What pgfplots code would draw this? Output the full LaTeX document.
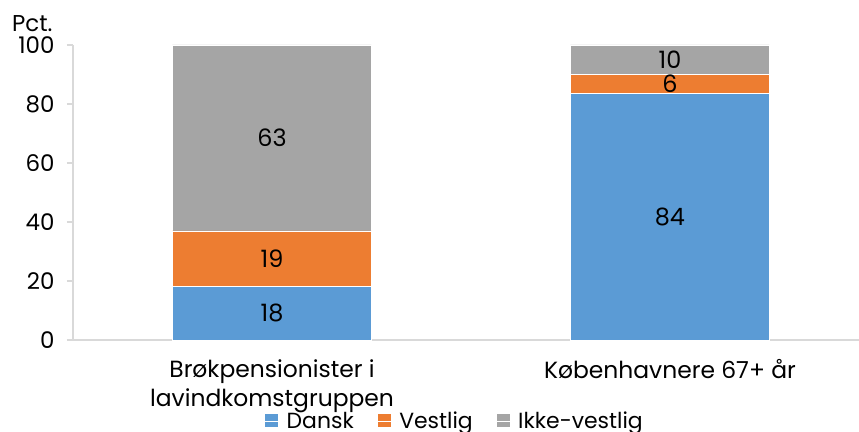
\documentclass[border=0pt]{standalone}
\usepackage{pgfplots}
\pgfplotsset{compat=1.18}
\usepackage{fontspec}
\setmainfont{Poppins}
\definecolor{cBlue}{HTML}{5B9BD5}
\definecolor{cOrange}{HTML}{ED7D31}
\definecolor{cGray}{HTML}{A5A5A5}
\definecolor{cAxis}{HTML}{D9D9D9}
\begin{document}
\begin{tikzpicture}
\path[use as bounding box, clip] (-73bp,-92bp) rectangle (786bp,340bp);
\begin{axis}[
  at={(0,0)}, anchor=south west,
  scale only axis, width=786bp, height=295bp,
  ybar stacked, bar width=199bp,
  xmin=-0.5, xmax=1.475, ymin=0, ymax=100,
  ytick={0,20,...,100},
  xtick={0,1},
  xticklabels={{Brøkpensionister i\\lavindkomstgruppen},{Københavnere 67+ år}},
  xticklabel style={align=center, font=\fontsize{23.5}{29}\selectfont, text=black, yshift=-10bp},
  yticklabel style={font=\fontsize{23}{26}\selectfont, text=black, xshift=-9bp},
  /pgf/number format/assume math mode=true,
  major x tick style={draw=none},
  axis x line*=bottom, axis y line*=left,
  axis line style={cAxis, line width=1.5bp, -},
  ytick style={cAxis, line width=1.5bp},
  tick align=outside, major tick length=6bp,
  legend style={at={(rel axis cs:0.486,-0.23)}, anchor=north, draw=none, fill=none,
    legend columns=-1, font=\fontsize{22}{25}\selectfont,
    /tikz/every even column/.append style={column sep=22bp}},
  legend image code/.code={\fill[#1, draw=none] (0bp,-6bp) rectangle (13bp,7bp); \path (0bp,0bp) -- (19bp,0bp);},
]
\addplot[fill=cBlue, draw=white, line width=0.5bp] coordinates {(0,18.3) (1,83.6)};
\addplot[fill=cOrange, draw=white, line width=0.5bp] coordinates {(0,18.7) (1,6.5)};
\addplot[fill=cGray, draw=white, line width=0.5bp] coordinates {(0,63.0) (1,9.9)};
\legend{Dansk, Vestlig, Ikke-vestlig}
\end{axis}
\begin{axis}[
  at={(0,0)}, anchor=south west,
  scale only axis, width=786bp, height=295bp,
  xmin=-0.5, xmax=1.475, ymin=0, ymax=100, hide axis, clip=false]
\addplot[draw=none, nodes near coords, point meta=explicit symbolic,
  nodes near coords style={anchor=center, font=\fontsize{24}{28}\selectfont, text=black}]
  coordinates {(0,9.15) [18] (0,27.65) [19] (0,68.5) [63] (1,41.8) [84] (1,86.85) [6] (1,95.05) [10]};
\node[anchor=base east, font=\fontsize{23}{26}\selectfont, xshift=-17bp, yshift=13bp] at (rel axis cs:0,1) {Pct.};
\end{axis}
\end{tikzpicture}
\end{document}
